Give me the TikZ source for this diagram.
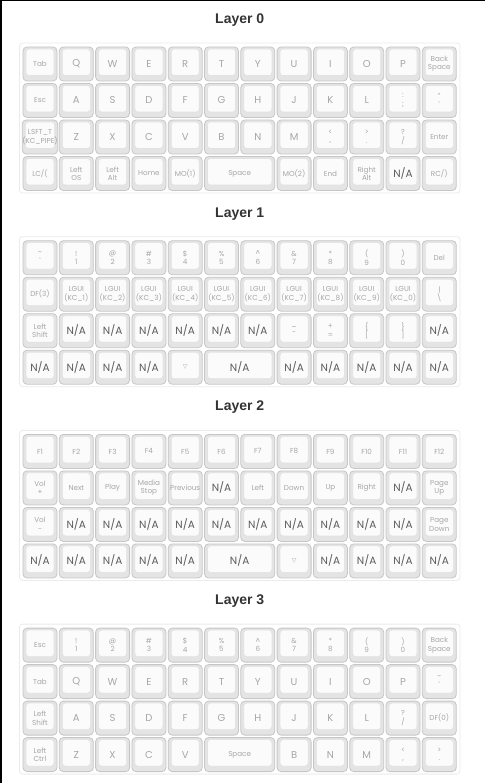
\documentclass[tikz,border=0pt]{standalone}
\usepackage{fontspec}
\setmainfont{Poppins}
\newfontfamily\titlefont{Liberation Sans}
\newfontfamily\symfont{DejaVu Sans}
\usetikzlibrary{positioning}

\definecolor{keyedge}{HTML}{C6C6C6}
\definecolor{keyside}{HTML}{E4E4E4}
\definecolor{keytop}{HTML}{FBFBFB}
\definecolor{keytopedge}{HTML}{E2E2E2}
\definecolor{legend}{HTML}{A6A6A6}
\definecolor{legenddark}{HTML}{5C5C5C}
\definecolor{paneledge}{HTML}{EBEBEB}
\definecolor{titlegray}{HTML}{333333}

% legend helpers
\newcommand{\ltr}[1]{{\fontsize{10}{10}\selectfont #1}}
\newcommand{\na}{{\fontsize{10.5}{10.5}\selectfont\color{legenddark}N/A}}
\newcommand{\tri}{{\symfont\fontsize{6}{6}\selectfont ▽}}

% one row of twelve single keys
\newcommand{\keyrow}[3]{%
  \foreach \lab [count=\kx from 0] in {#3}
    \node[keycap] (L#1-r#2-c\kx) at ({40+36.3*\kx},{64+193.7*#1+36.5*(#2-1)}) {\lab};}

% bottom row with a double-width key in the middle
\newcommand{\keyrowbottom}[4]{%
  \foreach \lab [count=\kx from 0] in {#2}
    \node[keycap] (L#1-r4-c\kx) at ({40+36.3*\kx},{173.5+193.7*#1}) {\lab};
  \node[keycap, minimum width=70.3] (L#1-r4-wide) at ({40+36.3*5.5},{173.5+193.7*#1}) {#3};
  \foreach \lab [count=\kx from 7] in {#4}
    \node[keycap] (L#1-r4-c\kx) at ({40+36.3*\kx},{173.5+193.7*#1}) {\lab};}

\begin{document}
\begin{tikzpicture}[
    x=1pt, y=-1pt,
    panel/.style={rectangle, draw=paneledge, fill=white, line width=0.8, rounded corners=3, minimum width=440.5, minimum height=150, inner sep=0},
    layertitle/.style={inner sep=0, text=titlegray, font=\titlefont\bfseries\fontsize{14}{14}\selectfont},
    keycap/.style={rectangle, draw=keyedge, fill=keyside, line width=0.8, rounded corners=4,
      minimum width=34, minimum height=34, inner sep=0, align=center, text=legend,
      font=\fontsize{7.2}{8.4}\selectfont,
      path picture={\draw[keytopedge, fill=keytop, rounded corners=3, line width=0.6]
        ([shift={(3,2)}]path picture bounding box.north west) rectangle
        ([shift={(-3,-5.5)}]path picture bounding box.south east);}}
]
    \useasboundingbox (0,0) rectangle (485,783);
    \draw[line width=1.5] (0,0.75) -- (485,0.75);
    \draw[line width=1.5] (0.75,0) -- (0.75,783);

    \foreach \l in {0,...,3} {
        \node[panel] (P\l) at (239.75,{118+193.7*\l}) {};
        \node[layertitle, above=16pt of P\l] (T\l) {Layer \l};
    }

    % Layer 0
    \keyrow{0}{1}{Tab,\ltr{Q},\ltr{W},\ltr{E},\ltr{R},\ltr{T},\ltr{Y},\ltr{U},\ltr{I},\ltr{O},\ltr{P},{Back\\Space}}
    \keyrow{0}{2}{Esc,\ltr{A},\ltr{S},\ltr{D},\ltr{F},\ltr{G},\ltr{H},\ltr{J},\ltr{K},\ltr{L},{:\\;},{"\\\textquotesingle}}
    \keyrow{0}{3}{{LSFT\_T\\(KC\_PIPE)},\ltr{Z},\ltr{X},\ltr{C},\ltr{V},\ltr{B},\ltr{N},\ltr{M},{<\\,},{>\\.},{?\\/},Enter}
    \keyrowbottom{0}{LC/(,{Left\\OS},{Left\\Alt},Home,MO(1)}{Space}{MO(2),End,{Right\\Alt},\na,RC/)}

    % Layer 1
    \keyrow{1}{1}{{\textasciitilde\\\textasciigrave},{!\\1},{@\\2},{\#\\3},{\$\\4},{\%\\5},{\textasciicircum\\6},{\&\\7},{*\\8},{(\\9},{)\\0},Del}
    \keyrow{1}{2}{DF(3),{LGUI\\(KC\_1)},{LGUI\\(KC\_2)},{LGUI\\(KC\_3)},{LGUI\\(KC\_4)},{LGUI\\(KC\_5)},{LGUI\\(KC\_6)},{LGUI\\(KC\_7)},{LGUI\\(KC\_8)},{LGUI\\(KC\_9)},{LGUI\\(KC\_0)},{|\\\textbackslash}}
    \keyrow{1}{3}{{Left\\Shift},\na,\na,\na,\na,\na,\na,{\_\\-},{+\\=},{\{\\{}[},{\}\\{}]},\na}
    \keyrowbottom{1}{\na,\na,\na,\na,\tri}{\na}{\na,\na,\na,\na,\na}

    % Layer 2
    \keyrow{2}{1}{F1,F2,F3,F4,F5,F6,F7,F8,F9,F10,F11,F12}
    \keyrow{2}{2}{{Vol\\+},Next,Play,{Media\\Stop},Previous,\na,Left,Down,Up,Right,\na,{Page\\Up}}
    \keyrow{2}{3}{{Vol\\-},\na,\na,\na,\na,\na,\na,\na,\na,\na,\na,{Page\\Down}}
    \keyrowbottom{2}{\na,\na,\na,\na,\na}{\na}{\tri,\na,\na,\na,\na}

    % Layer 3
    \keyrow{3}{1}{Esc,{!\\1},{@\\2},{\#\\3},{\$\\4},{\%\\5},{\textasciicircum\\6},{\&\\7},{*\\8},{(\\9},{)\\0},{Back\\Space}}
    \keyrow{3}{2}{Tab,\ltr{Q},\ltr{W},\ltr{E},\ltr{R},\ltr{T},\ltr{Y},\ltr{U},\ltr{I},\ltr{O},\ltr{P},{\textasciitilde\\\textasciigrave}}
    \keyrow{3}{3}{{Left\\Shift},\ltr{A},\ltr{S},\ltr{D},\ltr{F},\ltr{G},\ltr{H},\ltr{J},\ltr{K},\ltr{L},{?\\/},DF(0)}
    \keyrowbottom{3}{{Left\\Ctrl},\ltr{Z},\ltr{X},\ltr{C},\ltr{V}}{Space}{\ltr{B},\ltr{N},\ltr{M},{<\\,},{>\\.}}
\end{tikzpicture}
\end{document}
